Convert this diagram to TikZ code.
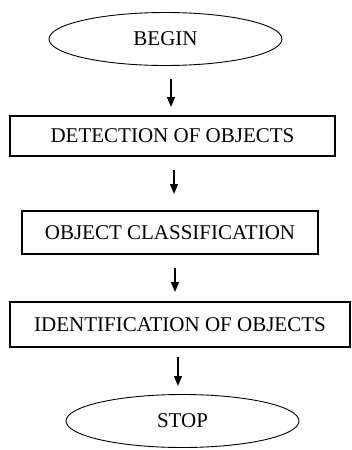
\documentclass[tikz,border=0pt]{standalone}
\usepackage{fontspec}
\setmainfont{Liberation Serif}
\usetikzlibrary{shapes,arrows.meta,positioning}

\begin{document}
\begin{tikzpicture}[x=1pt, y=-1pt,
        term/.style={draw, ellipse, line width=0.9pt, inner sep=0pt,
                     minimum width=233pt, minimum height=53pt,
                     font=\fontsize{21}{24}\selectfont},
        proc/.style={draw, rectangle, line width=1.2pt, inner sep=0pt,
                     align=center, font=\fontsize{21}{24}\selectfont},
        arr/.style={-{Triangle[width=8pt,length=10pt]}, line width=1.4pt},
    ]
        \useasboundingbox (0,0) rectangle (352,450);

        % Start / end
        \node[term] (begin) at (165.5, 39)  {BEGIN};
        \node[term] (stop)  at (182.5, 421) {STOP};

        % Process boxes
        \node[proc, minimum width=325pt, minimum height=40pt] (detect)   at (172.5, 136)   {DETECTION OF OBJECTS};
        \node[proc, minimum width=296pt, minimum height=43pt] (classify) at (170, 232.5)   {OBJECT CLASSIFICATION};
        \node[proc, minimum width=340pt, minimum height=45pt] (ident)    at (180, 324.5)   {IDENTIFICATION OF OBJECTS};

        % Arrows
        \draw[arr] ([xshift=5.5pt]begin.south |- 0,79) -- ([xshift=-1.5pt]detect.north |- 0,107);
        \draw[arr] ([xshift=1.5pt]detect.south |- 0,170) -- ([xshift=4pt]classify.north |- 0,194);
        \draw[arr] ([xshift=5pt]classify.south |- 0,268) -- ([xshift=-5pt]ident.north |- 0,292);
        \draw[arr] ([xshift=-2pt]ident.south |- 0,357) -- ([xshift=-4.5pt]stop.north |- 0,386);
\end{tikzpicture}
\end{document}
